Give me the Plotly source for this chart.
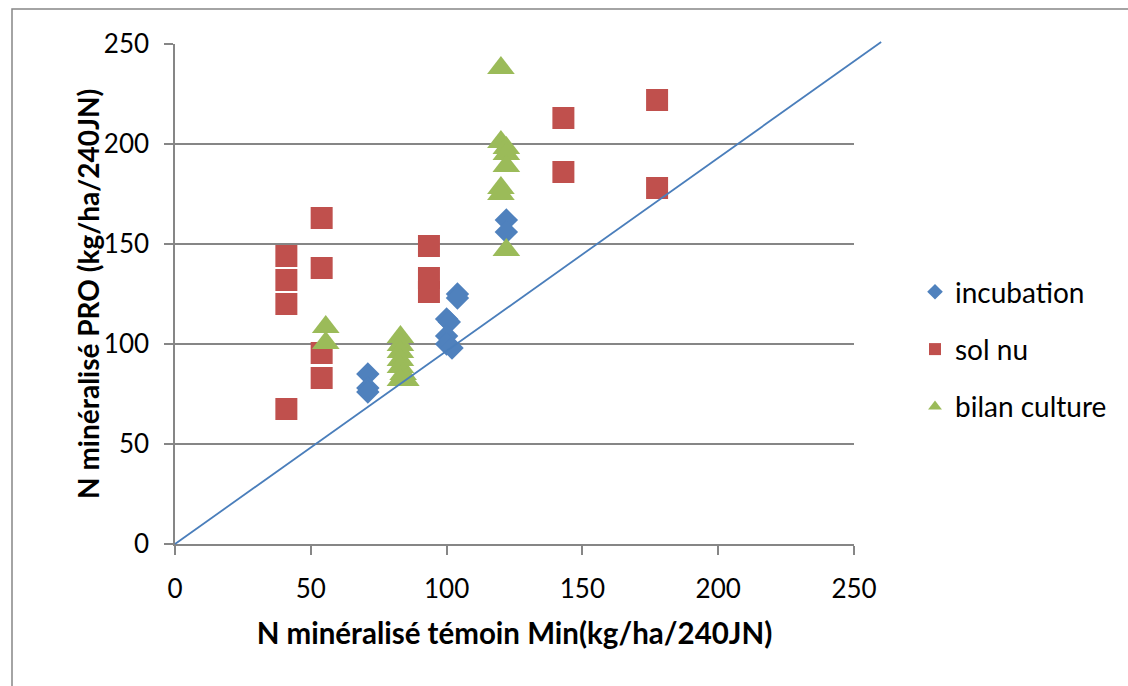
import plotly.graph_objects as go

# --- data -----------------------------------------------------------------
incubation_x = [71, 71, 71, 104, 104, 100, 101, 100, 100, 102, 122, 122]
incubation_y = [85, 78, 76, 125, 123, 112.5, 111, 104, 100, 98, 162, 156]

solnu_x = [41, 41, 41, 41, 54, 54, 54, 54, 93.5, 93.5, 93.5, 143, 143, 177.5, 177.5]
solnu_y = [144, 132, 120, 67.5, 163, 138, 95.5, 83, 149, 133, 126, 213, 186, 222, 178]

bilan_x = [55.5, 55.5, 83, 83, 83, 83, 83, 84, 85, 83,
           120, 120, 122, 122, 122, 120, 120, 122]
bilan_y = [108.5, 100.5, 103.5, 99.5, 96, 92, 88.5, 85, 82, 82,
           238, 201, 198, 195, 189, 178, 175, 147]

# reference line end points (data units)
ref_x = [0, 260]
ref_y = [0, 251]

x_ticks = [0, 50, 100, 150, 200, 250]
y_ticks = [0, 50, 100, 150, 200, 250]

# --- layout constants -------------------------------------------------------
W, H = 1128, 686
M_L, M_R, M_T, M_B = 175, 274, 44, 142
X_RANGE = [0, 250]
Y_RANGE = [0, 250]
GRID = "#868686"
FONT = "Lato"

blue, red, green = "#4F81BD", "#C0504D", "#9BBB59"

fig = go.Figure()
fig.add_trace(go.Scatter(
    x=incubation_x, y=incubation_y, mode="markers", name="incubation",
    legendgroup="a",
    marker=dict(symbol="diamond", size=18, color=blue, line=dict(width=0)),
    cliponaxis=False))
fig.add_trace(go.Scatter(
    x=solnu_x, y=solnu_y, mode="markers", name="sol nu",
    legendgroup="b",
    marker=dict(symbol="square", size=22, color=red, line=dict(width=0)),
    cliponaxis=False))
fig.add_trace(go.Scatter(
    x=bilan_x, y=bilan_y, mode="markers", name="bilan culture",
    legendgroup="c",
    marker=dict(symbol="triangle-up", size=24, color=green, line=dict(width=0)),
    cliponaxis=False))

# the reference line runs slightly past the plot edge, so it is
# drawn in paper coordinates (unclipped)
def to_paper_x(v):
    return (v - X_RANGE[0]) / (X_RANGE[1] - X_RANGE[0])

def to_paper_y(v):
    return (v - Y_RANGE[0]) / (Y_RANGE[1] - Y_RANGE[0])

fig.add_shape(type="line", xref="paper", yref="paper",
              x0=to_paper_x(ref_x[0]), y0=to_paper_y(ref_y[0]),
              x1=to_paper_x(ref_x[1]), y1=to_paper_y(ref_y[1]),
              line=dict(color="#4A7EBB", width=1.8), layer="above")

# outer chart border (extends past the right/bottom page edges)
pw = W - M_L - M_R
ph = H - M_T - M_B
fig.add_shape(type="rect", xref="paper", yref="paper",
              x0=(12 - M_L) / pw, x1=(W + 10 - M_L) / pw,
              y0=(H - M_B - (H + 10)) / ph, y1=(H - M_B - 9) / ph,
              line=dict(color="#868686", width=1.5), fillcolor="rgba(0,0,0,0)",
              layer="below")

# vertical axis title, placed as a rotated annotation
fig.add_annotation(text="<b>N minéralisé PRO (kg/ha/240JN)</b>",
                   xref="paper", yref="paper", x=(88 - M_L) / pw, y=0.5,
                   xanchor="center", yanchor="middle", textangle=-90,
                   showarrow=False, font=dict(family=FONT, size=28, color="black"))

fig.update_layout(
    width=W, height=H,
    margin=dict(l=M_L, r=M_R, t=M_T, b=M_B, pad=0),
    paper_bgcolor="white", plot_bgcolor="white",
    font=dict(family=FONT, size=26, color="black"),
    showlegend=True,
    legend=dict(x=(915 - M_L) / pw, y=(544 - 267) / ph, xanchor="left", yanchor="top",
                traceorder="grouped", tracegroupgap=18,
                font=dict(family=FONT, size=28, color="black"),
                bgcolor="rgba(0,0,0,0)", itemsizing="constant"),
    xaxis=dict(range=X_RANGE, tickvals=x_ticks, ticktext=[str(v) for v in x_ticks],
               showgrid=False, zeroline=False, showline=True, linecolor=GRID,
               linewidth=1.5, ticks="outside", ticklen=9, tickcolor=GRID, tickwidth=1.5,
               ticklabelstandoff=12, tickfont=dict(family=FONT, size=26),
               title=dict(text="<b>N minéralisé témoin Min(kg/ha/240JN)</b>",
                          font=dict(family=FONT, size=29.5), standoff=20)),
    yaxis=dict(range=Y_RANGE, tickvals=y_ticks, ticktext=[str(v) for v in y_ticks],
               showgrid=True, gridcolor=GRID, gridwidth=1.5,
               zeroline=False, showline=True, linecolor=GRID,
               linewidth=1.5, ticks="outside", ticklen=9, tickcolor=GRID, tickwidth=1.5,
               ticklabelstandoff=10, tickfont=dict(family=FONT, size=26)),
)

fig.write_html("out.html")
